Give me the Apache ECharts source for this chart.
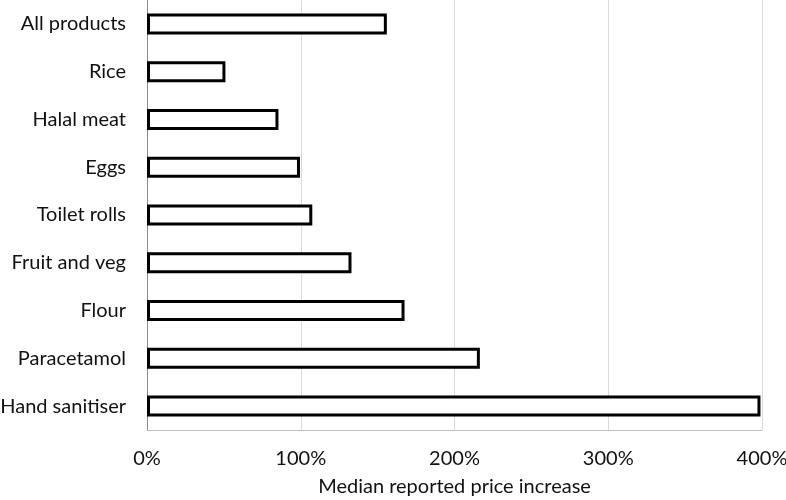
<!DOCTYPE html>
<html><head><meta charset="utf-8">
<script src="https://cdn.jsdelivr.net/npm/echarts@6/dist/echarts.min.js"></script>
<style>html,body{margin:0;padding:0;background:#fff}#c{width:786px;height:500px}</style>
</head><body><div id="c"></div>
<script>
const categories = ["All products","Rice","Halal meat","Eggs","Toilet rolls","Fruit and veg","Flour","Paracetamol","Hand sanitiser"];
const values = [156, 51, 85.5, 99.5, 107.5, 133, 167.5, 216.5, 399];
const xTicks = [0, 100, 200, 300, 400];
const chart = echarts.init(document.getElementById('c'));
const font = 'Lato';
chart.setOption({
  animation: false,
  grid: {left: 147, right: 24, top: 0, bottom: 70, containLabel: false, outerBoundsMode: 'none'},
  xAxis: {
    type: 'value', min: xTicks[0], max: xTicks[xTicks.length-1], interval: 100,
    name: 'Median reported price increase', nameLocation: 'middle', nameGap: 47,
    nameTextStyle: {fontFamily: font, fontSize: 20, color: '#111'},
    axisLine: {show: true, lineStyle: {color: '#bfbfbf', width: 1}},
    axisTick: {show: false},
    splitLine: {show: true, lineStyle: {color: '#d9d9d9', width: 1}},
    axisLabel: {formatter: v => v + '%', margin: 19, fontFamily: font, fontSize: 20, color: '#111'}
  },
  yAxis: {
    type: 'category', data: categories, inverse: true,
    axisLine: {show: true, lineStyle: {color: '#8c8c8c', width: 1}},
    axisTick: {show: false},
    axisLabel: {margin: 21, fontFamily: font, fontSize: 20, color: '#111'}
  },
  series: [{
    type: 'bar', data: values, barWidth: 21,
    itemStyle: {color: '#fff', borderColor: '#000', borderWidth: 3}
  }]
});
</script></body></html>
